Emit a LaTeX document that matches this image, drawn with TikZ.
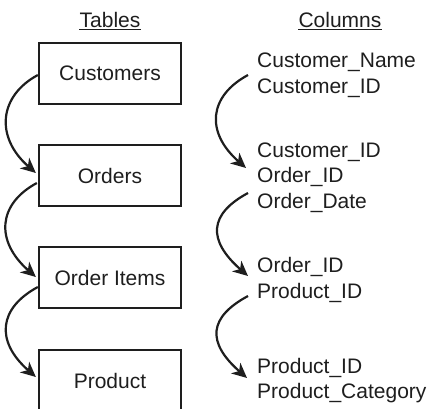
\documentclass[tikz,border=0pt]{standalone}
\usepackage{fontspec}
\setmainfont{Liberation Sans}
\usetikzlibrary{arrows.meta}
\definecolor{ink}{RGB}{30,30,30}
\begin{document}
\begin{tikzpicture}[x=1bp,y=-1bp,
  labelfont/.style={font=\fontsize{21bp}{25bp}\selectfont, text=ink},
  tablebox/.style={labelfont, draw=ink, line width=2.3bp, minimum width=142bp,
    minimum height=61bp, inner sep=0pt},
  coltext/.style={labelfont, anchor=base west, inner sep=0pt},
  heading/.style={labelfont, anchor=base, inner sep=0pt},
  headrule/.style={draw=ink, line width=1.3bp},
  link/.style={draw=ink, line width=2.2bp,
    -{Stealth[length=15bp,width=14bp,inset=4.5bp]}},
]
\useasboundingbox (0,0) rectangle (430,409);
\clip (0,0) rectangle (430,409);

% headings
\node[heading] (tabhead) at (110,27) {Tables};
\node[heading] (colhead) at (340,27) {Columns};
\draw[headrule] ([shift={(0,2.5)}]tabhead.base west) -- ([shift={(0,2.5)}]tabhead.base east);
\draw[headrule] ([shift={(0,2.5)}]colhead.base west) -- ([shift={(0,2.5)}]colhead.base east);

% tables
\node[tablebox] (cust)  at (110,73.5)  {Customers};
\node[tablebox] (ord)   at (110,175.5) {Orders};
\node[tablebox] (items) at (110,277.5) {Order Items};
\node[tablebox] (prod)  at (110,380.5) {Product};

% columns
\node[coltext] (cname) at (257,67.5)  {Customer\_Name};
\node[coltext] (cid1)  at (257,93)    {Customer\_ID};
\node[coltext] (cid2)  at (257,157)   {Customer\_ID};
\node[coltext] (oid1)  at (257,182.5) {Order\_ID};
\node[coltext] (odate) at (257,208)   {Order\_Date};
\node[coltext] (oid2)  at (257,272.5) {Order\_ID};
\node[coltext] (pid1)  at (257,298)   {Product\_ID};
\node[coltext] (pid2)  at (257,373)   {Product\_ID};
\node[coltext] (pcat)  at (257,398.5) {Product\_Category};

% links between tables
\draw[link] ([shift={(0,1.5)}]cust.west) .. controls +(-39,21) and +(-41,-36) .. ([shift={(-2,-2.5)}]ord.west);
\draw[link] ([shift={(-1,7.5)}]ord.west) .. controls +(-39,21) and +(-41,-36) .. ([shift={(-2,-0.5)}]items.west);
\draw[link] ([shift={(0,9.5)}]items.west) .. controls +(-39,21) and +(-41,-36) .. ([shift={(-2,-3.5)}]prod.west);

% links between key columns
\draw[link] ([shift={(-9,-18)}]cid1.base west) .. controls +(-39,21) and +(-41,-36) .. ([shift={(-11,-14.5)}]oid1.base west);
\draw[link] ([shift={(-9,-15)}]odate.base west) .. controls +(-39,21) and +(-41,-36) .. ([shift={(-9,3.5)}]oid2.base west);
\draw[link] ([shift={(-9,-2)}]pid1.base west) .. controls +(-39,21) and +(-41,-36) .. ([shift={(-10,5)}]pid2.base west);
\end{tikzpicture}
\end{document}
